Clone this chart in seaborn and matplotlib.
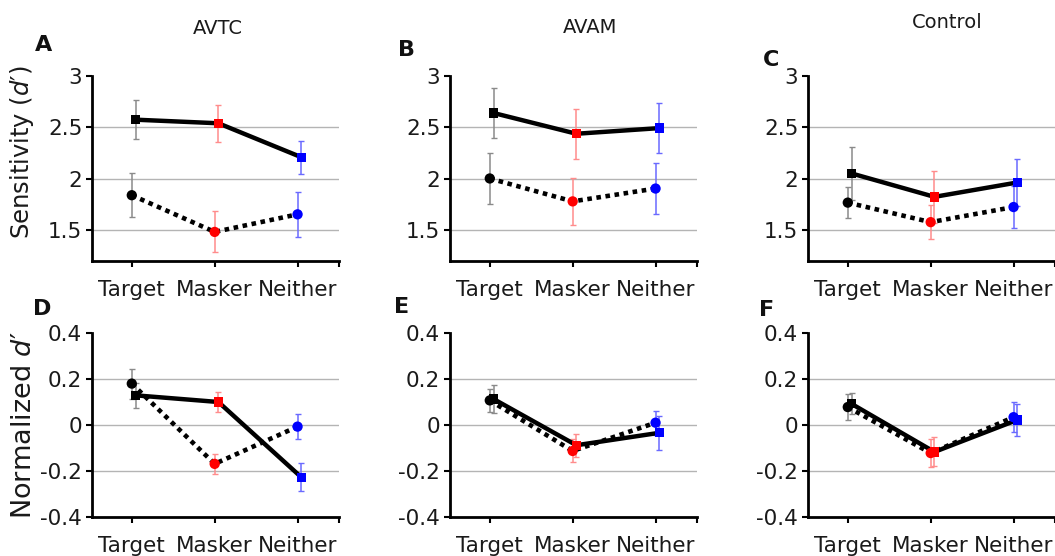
import numpy as np
import pandas as pd
import matplotlib
matplotlib.use("Agg")
import matplotlib.pyplot as plt
import seaborn as sns

# ---------------- data ----------------
conditions = ["AVTC", "AVAM", "Control"]
categories = ["Target", "Masker", "Neither"]
cat_colors = ["#000000", "#ff0000", "#0000ff"]
err_colors = ["#8a8a8a", "#ff8c8c", "#6a6aff"]
panel_letters = ["A", "B", "C", "D", "E", "F"]

top_ticks = [1.5, 2, 2.5, 3]
top_ticklabels = ["1.5", "2", "2.5", "3"]
bottom_ticks = [-0.4, -0.2, 0, 0.2, 0.4]
bottom_ticklabels = ["-0.4", "-0.2", "0", "0.2", "0.4"]

# Sensitivity (d') - solid (squares) and dotted (circles) series
a_solid = [2.575, 2.54, 2.21]
a_solid_err = [0.19, 0.18, 0.16]
a_dotted = [1.84, 1.483, 1.654]
a_dotted_err = [0.215, 0.2, 0.22]

b_solid = [2.64, 2.438, 2.493]
b_solid_err = [0.24, 0.245, 0.24]
b_dotted = [2.003, 1.78, 1.905]
b_dotted_err = [0.245, 0.23, 0.25]

c_solid = [2.052, 1.824, 1.964]
c_solid_err = [0.26, 0.255, 0.23]
c_dotted = [1.768, 1.578, 1.725]
c_dotted_err = [0.15, 0.165, 0.2]

# Normalized d'
d_solid = [0.129, 0.10, -0.227]
d_solid_err = [0.055, 0.045, 0.06]
d_dotted = [0.18, -0.169, -0.007]
d_dotted_err = [0.065, 0.045, 0.056]

e_solid = [0.113, -0.088, -0.034]
e_solid_err = [0.06, 0.05, 0.075]
e_dotted = [0.107, -0.113, 0.01]
e_dotted_err = [0.05, 0.05, 0.052]

f_solid = [0.092, -0.117, 0.022]
f_solid_err = [0.045, 0.063, 0.068]
f_dotted = [0.078, -0.122, 0.034]
f_dotted_err = [0.055, 0.06, 0.065]

# ---------------- style ----------------
sns.set_theme(style="white")
plt.rcParams["font.family"] = ["DejaVu Sans"]
plt.rcParams["mathtext.fontset"] = "custom"
plt.rcParams["mathtext.rm"] = "DejaVu Sans"
plt.rcParams["mathtext.it"] = "DejaVu Sans:italic"
plt.rcParams["axes.unicode_minus"] = False

fig = plt.figure(figsize=(10.55, 5.56), dpi=100)

lefts = [92 / 1055, 450 / 1055, 808 / 1055]
width = 247 / 1055
top_row = (1 - 261 / 556, 185 / 556)
bot_row = (1 - 517 / 556, 184 / 556)

panels = [
    (a_solid, a_solid_err, a_dotted, a_dotted_err),
    (b_solid, b_solid_err, b_dotted, b_dotted_err),
    (c_solid, c_solid_err, c_dotted, c_dotted_err),
    (d_solid, d_solid_err, d_dotted, d_dotted_err),
    (e_solid, e_solid_err, e_dotted, e_dotted_err),
    (f_solid, f_solid_err, f_dotted, f_dotted_err),
]

dodge = 0.045
base_pos = np.arange(len(categories))

for i, (s, se, d, de) in enumerate(panels):
    row = 0 if i < 3 else 1
    col = i % 3
    b, h = top_row if row == 0 else bot_row
    ax = fig.add_axes([lefts[col], b, width, h])

    df_s = pd.DataFrame({"pos": base_pos + dodge, "value": s, "err": se,
                         "category": categories})
    df_d = pd.DataFrame({"pos": base_pos, "value": d, "err": de,
                         "category": categories})

    # error bars
    for df in (df_d, df_s):
        for k in range(len(df)):
            ax.errorbar(df["pos"].iloc[k], df["value"].iloc[k], yerr=df["err"].iloc[k],
                        fmt="none", ecolor=err_colors[k], elinewidth=1.1,
                        capsize=2.5, capthick=1.0, zorder=2)

    # lines
    sns.lineplot(data=df_d, x="pos", y="value", ax=ax, color="black",
                 linewidth=3.3, linestyle=(0, (1, 1)), sort=False,
                 estimator=None, zorder=3)
    sns.lineplot(data=df_s, x="pos", y="value", ax=ax, color="black",
                 linewidth=3.2, sort=False, estimator=None, zorder=4)

    # markers
    sns.scatterplot(data=df_d, x="pos", y="value", hue="category",
                    palette=dict(zip(categories, cat_colors)), marker="o",
                    s=55, edgecolor="none", legend=False, ax=ax, zorder=5)
    sns.scatterplot(data=df_s, x="pos", y="value", hue="category",
                    palette=dict(zip(categories, cat_colors)), marker="s",
                    s=45, edgecolor="none", legend=False, ax=ax, zorder=6)

    # axes formatting
    ax.set_xlim(-0.48, 2.5)
    ax.set_xticks(base_pos)
    ax.set_xticklabels(categories)
    ax.set_xticks([2.5], minor=True)
    ax.yaxis.remove_overlapping_locs = False
    if row == 0:
        ax.set_ylim(1.2, 3.0)
        ax.set_yticks(top_ticks)
        ax.set_yticklabels(top_ticklabels)
        ax.set_yticks([1.5, 2, 2.5], minor=True)
    else:
        ax.set_ylim(-0.4, 0.4)
        ax.set_yticks(bottom_ticks)
        ax.set_yticklabels(bottom_ticklabels)
        ax.set_yticks([-0.2, 0, 0.2], minor=True)
    ax.grid(False)
    ax.yaxis.grid(True, which="minor", color="#b4b4b4", linewidth=1.0, zorder=0)
    ax.set_axisbelow(True)
    ax.set_xlabel("")
    ax.set_ylabel("")
    for sp in ("top", "right"):
        ax.spines[sp].set_visible(False)
    for sp in ("left", "bottom"):
        ax.spines[sp].set_color("black")
        ax.spines[sp].set_linewidth(2.0)
    ax.tick_params(axis="y", which="major", direction="out", length=4, width=1.5,
                   color="black", labelsize=15.5, pad=3, left=True)
    ax.tick_params(axis="y", which="minor", length=0)
    ax.tick_params(axis="x", which="major", direction="out", length=4, width=1.5,
                   color="black", labelsize=15.5, pad=10, bottom=True)
    ax.tick_params(axis="x", which="minor", direction="out", length=4, width=1.5,
                   color="black", bottom=True)
    for lab in ax.get_xticklabels() + ax.get_yticklabels():
        lab.set_color("#1a1a1a")

# titles
title_pos = [(217.5, 28), (590, 27.5), (947.5, 22.5)]
for name, (x, y) in zip(conditions, title_pos):
    fig.text(x / 1055, 1 - y / 556, name, ha="center", va="center",
             fontsize=14, color="#1a1a1a")

# panel letters
letter_pos = [(44, 45), (406, 50), (771, 60), (42, 309), (402, 307), (767, 310)]
for letter, (x, y) in zip(panel_letters, letter_pos):
    fig.text(x / 1055, 1 - y / 556, letter, ha="center", va="center",
             fontsize=16, fontweight="bold", color="#111111")

# y labels
fig.text(22 / 1055, 1 - 152 / 556, "Sensitivity ($\\mathit{d}$\u2032)",
         rotation=90, ha="center", va="center", fontsize=17.5, color="#1a1a1a")
fig.text(24 / 1055, 1 - 425 / 556, "Normalized $\\mathit{d}$\u2032",
         rotation=90, ha="center", va="center", fontsize=19.5, color="#1a1a1a")

fig.savefig("out.png", dpi=100)
